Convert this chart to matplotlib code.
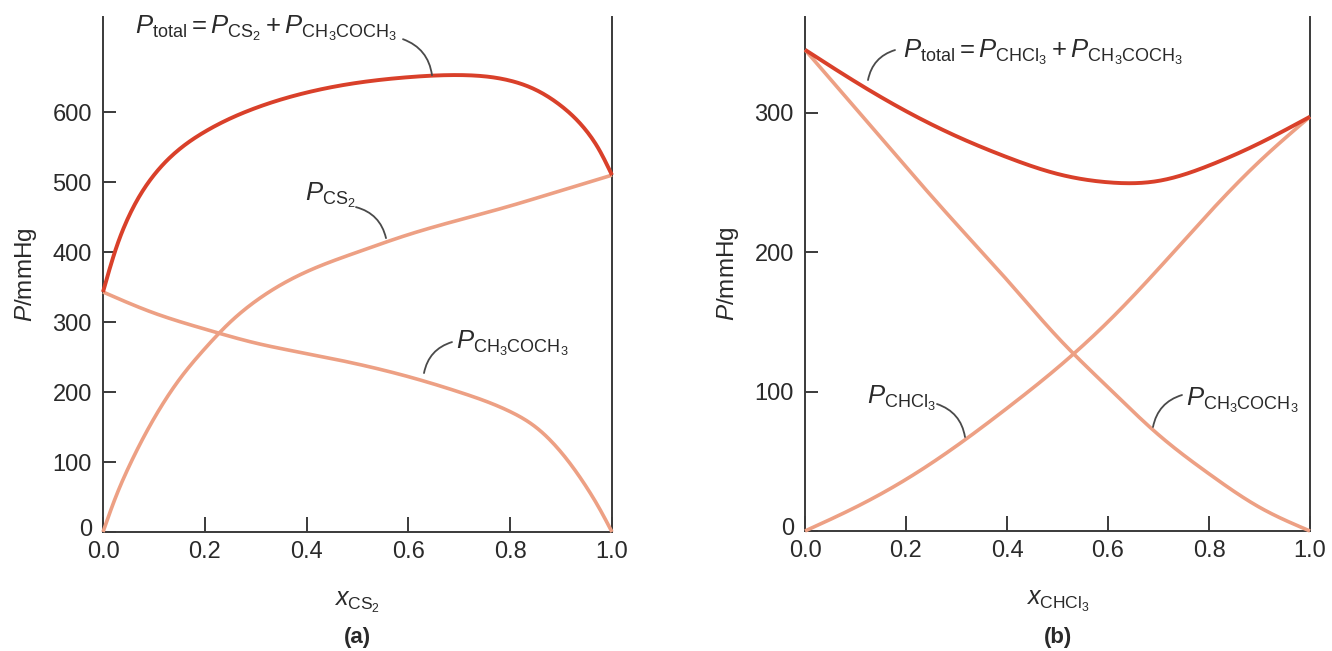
import matplotlib
matplotlib.use("Agg")
import matplotlib.pyplot as plt
import matplotlib.transforms as mtransforms
import numpy as np

plt.rcParams['font.family'] = ['Liberation Sans', 'DejaVu Sans']
plt.rcParams['mathtext.fontset'] = 'custom'
plt.rcParams['mathtext.rm'] = 'Liberation Sans'
plt.rcParams['mathtext.it'] = 'Liberation Sans:italic'
plt.rcParams['mathtext.bf'] = 'Liberation Sans:bold'

# ---------------- data (a): CS2 + acetone ----------------
x_a_cs2 = [0.0, 0.025, 0.05, 0.1, 0.15, 0.2, 0.25, 0.3, 0.4, 0.5, 0.6, 0.7, 0.8, 0.9, 1.0]
p_a_cs2 = [0, 50, 92, 162, 218, 262, 300, 330, 372, 400, 425, 446, 466, 488, 510]

x_a_ace = [0.0, 0.1, 0.2, 0.3, 0.4, 0.5, 0.6, 0.7, 0.8, 0.85, 0.9, 0.95, 0.975, 1.0]
p_a_ace = [343, 313, 290, 270, 255, 240, 222, 200, 172, 150, 114, 64, 34, 0]

x_a_tot = [0.0, 0.025, 0.05, 0.1, 0.15, 0.2, 0.25, 0.3, 0.4, 0.5, 0.6, 0.7, 0.8, 0.85, 0.9, 0.95, 0.975, 1.0]
p_a_tot = [343, 404, 450, 510, 547, 572, 591, 606, 628, 642, 650, 653, 645, 632, 609, 573, 546, 510]

# ---------------- data (b): CHCl3 + acetone ----------------
x_b_chcl3 = [0.0, 0.1, 0.2, 0.3, 0.4, 0.5, 0.6, 0.7, 0.8, 0.9, 1.0]
p_b_chcl3 = [0, 17, 37, 61, 88, 117, 150, 188, 228, 265, 297]

x_b_ace = [0.0, 0.1, 0.2, 0.3, 0.4, 0.5, 0.6, 0.7, 0.8, 0.9, 1.0]
p_b_ace = [345, 303, 261, 220, 180, 139, 103, 69, 41, 17, 0]

x_b_tot = [0.0, 0.1, 0.2, 0.3, 0.4, 0.5, 0.6, 0.7, 0.8, 0.9, 1.0]
p_b_tot = [345, 322, 301, 283, 268, 256, 250, 251, 262, 278, 297]

x_ticks = [0.0, 0.2, 0.4, 0.6, 0.8, 1.0]
x_ticklabels = ["0.0", "0.2", "0.4", "0.6", "0.8", "1.0"]
y_ticks_a = [0, 100, 200, 300, 400, 500, 600]
y_ticks_b = [0, 100, 200, 300]

C_TOT = '#d9402a'
C_PART = '#eda084'
C_AX = '#3a3a3a'
C_LEAD = '#4a4a4a'
C_TXT = '#2a2a2a'


def spline(x, y, n=400):
    """Natural cubic spline through the read points (smooth drawing only)."""
    x = np.asarray(x, float)
    y = np.asarray(y, float)
    N = len(x)
    h = np.diff(x)
    A = np.zeros((N, N))
    b = np.zeros(N)
    A[0, 0] = A[-1, -1] = 1.0
    for i in range(1, N - 1):
        A[i, i - 1] = h[i - 1]
        A[i, i] = 2 * (h[i - 1] + h[i])
        A[i, i + 1] = h[i]
        b[i] = 6 * ((y[i + 1] - y[i]) / h[i] - (y[i] - y[i - 1]) / h[i - 1])
    M = np.linalg.solve(A, b)
    xs = np.linspace(x[0], x[-1], n)
    idx = np.clip(np.searchsorted(x, xs) - 1, 0, N - 2)
    x0, x1 = x[idx], x[idx + 1]
    hh = x1 - x0
    t0 = x1 - xs
    t1 = xs - x0
    ys = (M[idx] * t0**3 / (6 * hh) + M[idx + 1] * t1**3 / (6 * hh)
          + (y[idx] / hh - M[idx] * hh / 6) * t0 + (y[idx + 1] / hh - M[idx + 1] * hh / 6) * t1)
    return xs, ys


W, H = 1332, 651
fig = plt.figure(figsize=(W / 100, H / 100), dpi=100)

def make_ax(left_px, right_px, top_px, bottom_px, ymax, yticks):
    ax = fig.add_axes([left_px / W, (H - bottom_px) / H, (right_px - left_px) / W,
                       (bottom_px - top_px) / H])
    ax.set_xlim(0, 1)
    ax.set_ylim(0, ymax)
    ax.spines['top'].set_visible(False)
    for s in ['left', 'right', 'bottom']:
        ax.spines[s].set_color(C_AX)
        ax.spines[s].set_linewidth(1.4)
    ax.tick_params(axis='both', direction='in', colors=C_AX, width=1.4,
                   labelsize=17, labelcolor=C_TXT)
    ax.tick_params(axis='x', length=11, pad=6.5)
    ax.tick_params(axis='y', length=9, pad=8)
    ax.set_xticks(x_ticks)
    ax.set_xticklabels(x_ticklabels)
    ax.set_yticks(yticks)
    # lift the corner "0" label slightly, as in the reference
    lbl = ax.get_yticklabels()[0]
    lbl.set_transform(lbl.get_transform() + mtransforms.ScaledTranslation(0, 3 / 72, fig.dpi_scale_trans))
    return ax

axA = make_ax(103, 612, 17, 532, 736, y_ticks_a)
axB = make_ax(805, 1310, 17, 531, 368.5, y_ticks_b)

for ax, series in [
    (axA, [(x_a_cs2, p_a_cs2, C_PART, 2.6), (x_a_ace, p_a_ace, C_PART, 2.6),
           (x_a_tot, p_a_tot, C_TOT, 2.8)]),
    (axB, [(x_b_chcl3, p_b_chcl3, C_PART, 2.6), (x_b_ace, p_b_ace, C_PART, 2.6),
           (x_b_tot, p_b_tot, C_TOT, 2.8)]),
]:
    for xv, yv, c, lw in series:
        xs, ys = spline(xv, yv)
        ax.plot(xs, ys, color=c, lw=lw, solid_capstyle='butt', clip_on=False, zorder=3)

# axis labels
for ax in (axA, axB):
    ax.set_ylabel(r'$P$/mmHg', fontsize=17.5, color=C_TXT, labelpad=10)
axA.set_xlabel(r'$x_{\mathrm{CS_2}}$', fontsize=18, color=C_TXT, labelpad=19)
axB.set_xlabel(r'$x_{\mathrm{CHCl_3}}$', fontsize=18, color=C_TXT, labelpad=19)
fig.text(357 / W, 1 - 638 / H, '(a)', fontsize=16, fontweight='bold', ha='center', va='center', color=C_TXT)
fig.text(1058 / W, 1 - 638 / H, '(b)', fontsize=16, fontweight='bold', ha='center', va='center', color=C_TXT)

# annotation helpers: pixel -> data
def pa(px, py):
    return ((px - 103) / 509, (532 - py) / 0.7)

def pb(px, py):
    return ((px - 805) / 505, (531 - py) / 1.395)

def label(ax, pos, s, ha='left'):
    ax.text(pos[0], pos[1], s, fontsize=18.5, ha=ha, va='center', color=C_TXT, zorder=5, clip_on=False)

def lead(ax, p0, p1, rad):
    ax.annotate('', xy=p1, xytext=p0,
                arrowprops=dict(arrowstyle='-', color=C_LEAD, lw=1.3,
                                connectionstyle=f'arc3,rad={rad}', shrinkA=0, shrinkB=0),
                annotation_clip=False)

label(axA, pa(135, 28), r'$P_{\mathrm{total}} = P_{\mathrm{CS_2}} + P_{\mathrm{CH_3COCH_3}}$')
lead(axA, pa(403, 39), pa(432, 75), -0.3)
label(axA, pa(305, 195), r'$P_{\mathrm{CS_2}}$')
lead(axA, pa(356, 207), pa(386, 238), -0.3)
label(axA, pa(456, 343), r'$P_{\mathrm{CH_3COCH_3}}$')
lead(axA, pa(452, 342), pa(424, 373), 0.3)

label(axB, pb(903, 52), r'$P_{\mathrm{total}} = P_{\mathrm{CHCl_3}} + P_{\mathrm{CH_3COCH_3}}$')
lead(axB, pb(895, 50), pb(868, 80), 0.3)
label(axB, pb(867, 398), r'$P_{\mathrm{CHCl_3}}$')
lead(axB, pb(937, 404), pb(965, 437), -0.3)
label(axB, pb(1186, 400), r'$P_{\mathrm{CH_3COCH_3}}$')
lead(axB, pb(1182, 395), pb(1153, 427), 0.3)

fig.savefig('out.png', dpi=100)
